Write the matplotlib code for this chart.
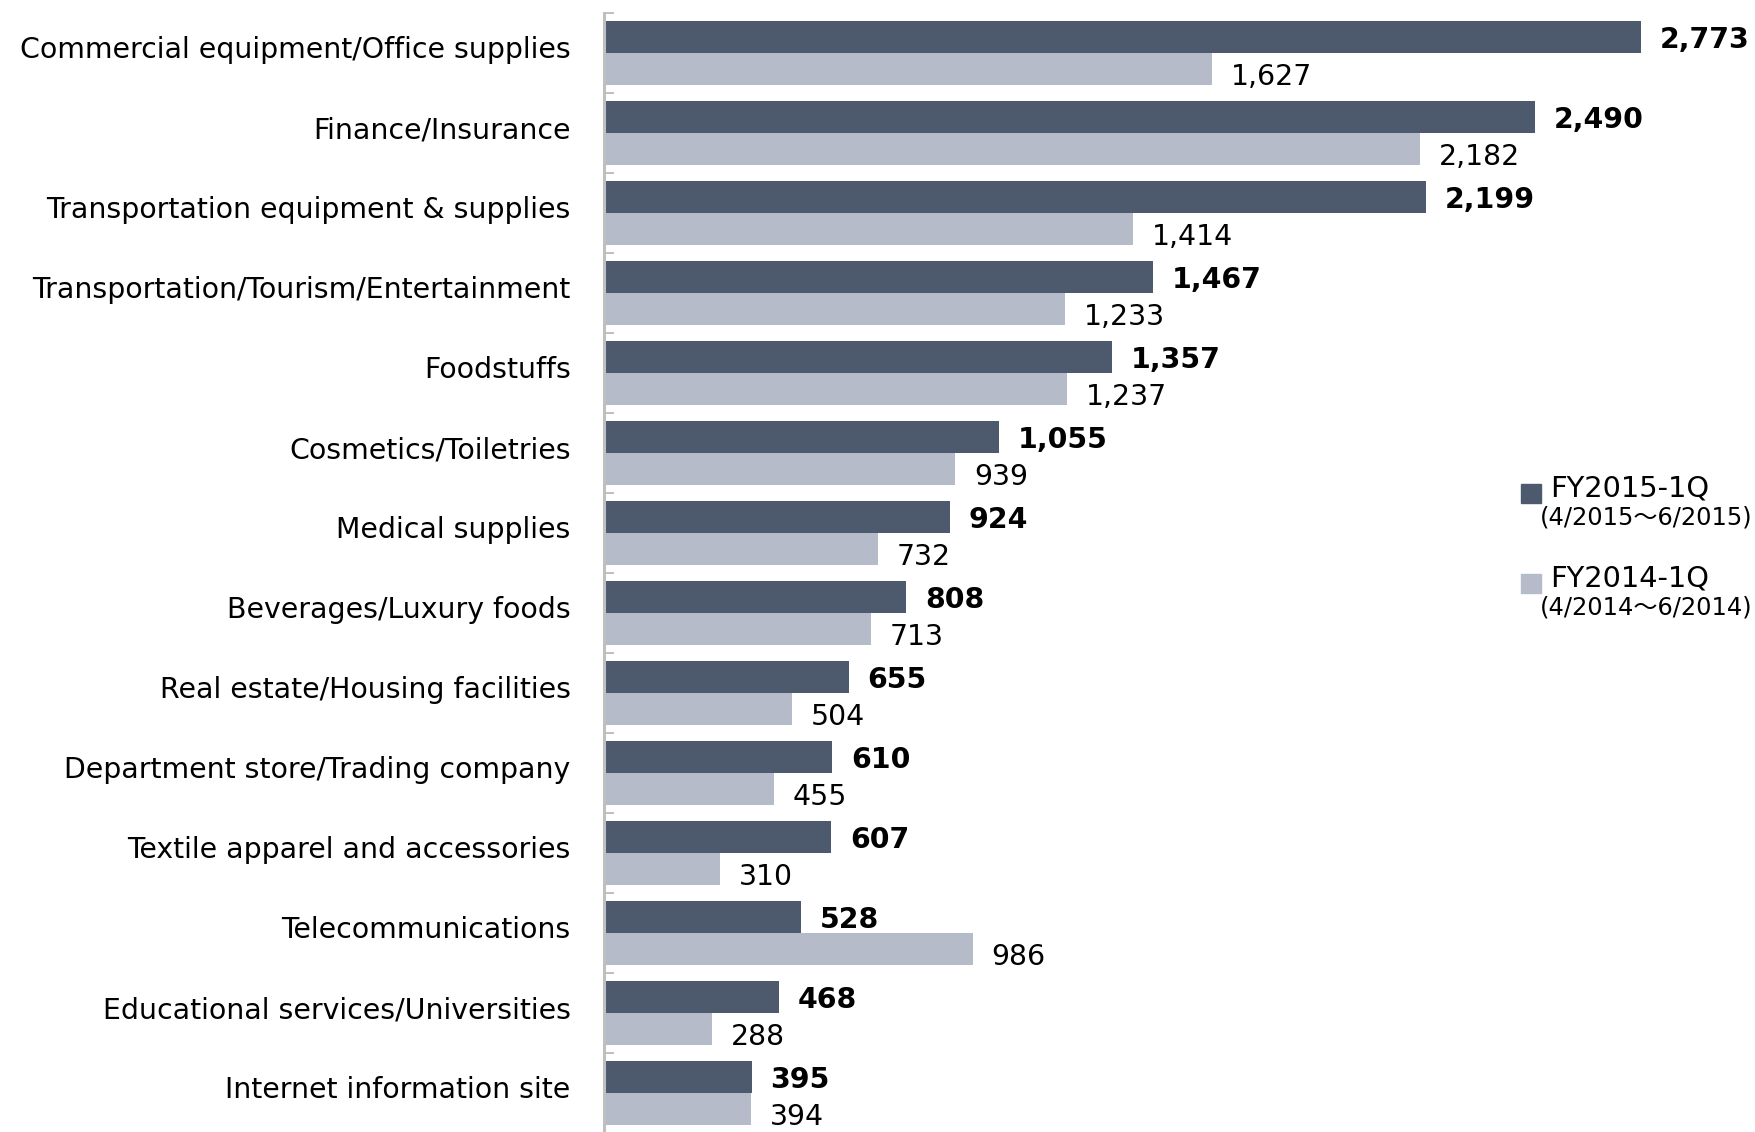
import matplotlib
matplotlib.use("Agg")
from matplotlib import pyplot as plt
from matplotlib.patches import Rectangle
import numpy as np

categories = [
    "Commercial equipment/Office supplies",
    "Finance/Insurance",
    "Transportation equipment & supplies",
    "Transportation/Tourism/Entertainment",
    "Foodstuffs",
    "Cosmetics/Toiletries",
    "Medical supplies",
    "Beverages/Luxury foods",
    "Real estate/Housing facilities",
    "Department store/Trading company",
    "Textile apparel and accessories",
    "Telecommunications",
    "Educational services/Universities",
    "Internet information site",
]
fy2015 = [2773, 2490, 2199, 1467, 1357, 1055, 924, 808, 655, 610, 607, 528, 468, 395]
fy2014 = [1627, 2182, 1414, 1233, 1237, 939, 732, 713, 504, 455, 310, 986, 288, 394]

legend_main = ["FY2015-1Q", "FY2014-1Q"]
legend_sub = ["(4/2015\uff5e6/2015)", "(4/2014\uff5e6/2014)"]

DARK = "#4d5a6e"
LIGHT = "#b5bbc8"
GREY = "#bfbfbf"

plt.rcParams["font.family"] = ["DejaVu Sans", "Noto Sans CJK JP"]

W, H = 1756, 1132
fig = plt.figure(figsize=(W / 100, H / 100), dpi=100)
top = 1 - 13 / H
height = 1120 / H
ax = fig.add_axes([604 / W, top - height, 1122 / W, height])

y = np.arange(len(categories))
bh = 0.4
ax.barh(y - bh / 2, fy2015, height=bh, color=DARK)
ax.barh(y + bh / 2, fy2014, height=bh, color=LIGHT)

for yi, v in zip(y, fy2015):
    ax.annotate(f"{v:,}", (v, yi - bh / 2), xytext=(13.5, -7.6), textcoords="offset points",
                ha="left", va="baseline", fontsize=20.4, fontweight="bold", color="black")
for yi, v in zip(y, fy2014):
    ax.annotate(f"{v:,}", (v, yi + bh / 2), xytext=(13.5, -11.8), textcoords="offset points",
                ha="left", va="baseline", fontsize=20.4, color="black")

ax.set_xlim(0, 3000)
ax.set_ylim(len(categories) - 0.5, -0.5)
# category names sit a little above the middle of their pair of bars
ax.set_yticks(y - 0.07)
ax.set_yticklabels(categories, fontsize=20.45)
ax.set_yticks(np.arange(len(categories) + 1) - 0.5, minor=True)
ax.tick_params(axis="y", which="major", length=0, pad=24)
ax.tick_params(axis="y", which="minor", direction="in", length=7, width=1.4, color=GREY)
ax.set_xticks([])
for side in ["top", "right", "bottom"]:
    ax.spines[side].set_visible(False)
ax.spines["left"].set_color(GREY)
ax.spines["left"].set_linewidth(2.2)

# legend drawn by hand so each entry can carry its date range
for i, (main, sub, col) in enumerate(zip(legend_main, legend_sub, [DARK, LIGHT])):
    dy = i * 90
    fig.patches.append(Rectangle((1521 / W, 1 - (503 + dy) / H), 20 / W, 19 / H,
                                 transform=fig.transFigure, color=col))
    fig.text(1550 / W, 1 - (497 + dy) / H, main, fontsize=20.8, va="baseline", ha="left")
    fig.text(1540 / W, 1 - (525 + dy) / H, sub, fontsize=17.4, va="baseline", ha="left")

fig.savefig("out.png", dpi=100)
